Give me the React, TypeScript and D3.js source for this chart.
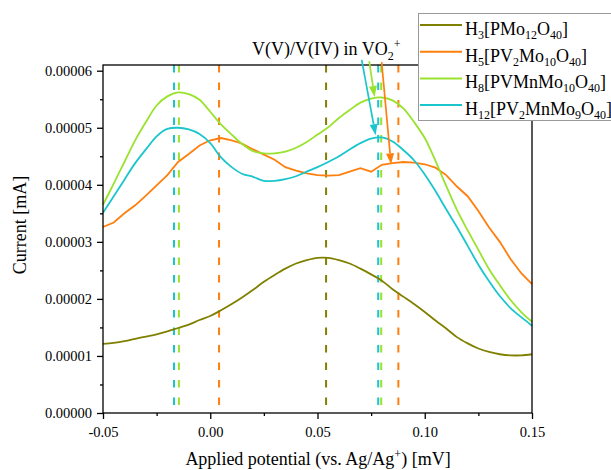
import React, { useEffect, useRef } from 'react';
import * as d3 from 'd3';

// potential axis samples [V]
const potential = [
  -0.05, -0.045, -0.04, -0.035, -0.03, -0.025, -0.02, -0.015, -0.01, -0.005,
  0.0, 0.005, 0.01, 0.015, 0.02, 0.025, 0.03, 0.035, 0.04, 0.045,
  0.05, 0.055, 0.06, 0.065, 0.07, 0.075, 0.08, 0.085, 0.09, 0.095,
  0.1, 0.105, 0.11, 0.115, 0.12, 0.125, 0.13, 0.135, 0.14, 0.145, 0.15,
];

// currents, in units of 1e-5 mA
const h3Current = [
  1.21, 1.23, 1.26, 1.3, 1.34, 1.38, 1.43, 1.49, 1.55, 1.63,
  1.7, 1.8, 1.91, 2.03, 2.16, 2.3, 2.42, 2.53, 2.62, 2.68,
  2.72, 2.72, 2.68, 2.62, 2.53, 2.43, 2.32, 2.17, 2.04, 1.91,
  1.77, 1.62, 1.48, 1.33, 1.22, 1.13, 1.07, 1.03, 1.01, 1.01, 1.03,
];
const h5Current = [
  3.26, 3.34, 3.5, 3.64, 3.81, 3.99, 4.17, 4.4, 4.54, 4.69,
  4.78, 4.82, 4.78, 4.72, 4.62, 4.53, 4.44, 4.31, 4.25, 4.2,
  4.17, 4.16, 4.17, 4.23, 4.29, 4.23, 4.35, 4.38, 4.4, 4.39,
  4.36, 4.3, 4.17, 3.97, 3.8, 3.54, 3.25, 3.0, 2.7, 2.45, 2.26,
];
const h8Current = [
  3.65, 4.02, 4.4, 4.78, 5.1, 5.39, 5.55, 5.62, 5.59, 5.49,
  5.28, 5.06, 4.88, 4.71, 4.59, 4.55, 4.55, 4.58, 4.65, 4.75,
  4.88, 5.01, 5.17, 5.31, 5.44, 5.51, 5.53, 5.48, 5.34, 5.1,
  4.82, 4.42, 3.98, 3.56, 3.2, 2.86, 2.52, 2.24, 1.98, 1.77, 1.6,
];
const h12Current = [
  3.51, 3.8, 4.09, 4.38, 4.62, 4.85, 4.98, 5.0, 4.97, 4.89,
  4.73, 4.48, 4.31, 4.19, 4.14, 4.07, 4.07, 4.1, 4.15, 4.23,
  4.31, 4.4, 4.5, 4.62, 4.73, 4.81, 4.83, 4.76, 4.61, 4.43,
  4.18, 3.89, 3.57, 3.26, 2.93, 2.6, 2.31, 2.05, 1.84, 1.68, 1.53,
];

// peak markers (dashed lines)
const peakPotentials = [-0.0169, -0.0146, 0.0041, 0.054, 0.0783, 0.0797, 0.0877];
const peakSeries = [3, 2, 1, 0, 3, 2, 1];

// annotation arrows: [x0, y0(1e-5), x1, y1(1e-5), series]
const arrowStart = [[0.0706, 6.19], [0.0741, 6.17], [0.0799, 6.15]];
const arrowEnd = [[0.0771, 4.87], [0.0766, 5.54], [0.0843, 4.36]];
const arrowSeries = [3, 2, 1];

const xTicks = [-0.05, 0.0, 0.05, 0.1, 0.15];
const yTicks = [0, 0.00001, 0.00002, 0.00003, 0.00004, 0.00005, 0.00006];

const colors = ['#808000', '#ff7f0e', '#99e22e', '#1ac6cc'];
const seriesData = [h3Current, h5Current, h8Current, h12Current];

// legend labels split into [text, isSubscript]
const legendLabels: [string, boolean][][] = [
  [['H', false], ['3', true], ['[PMo', false], ['12', true], ['O', false], ['40', true], [']', false]],
  [['H', false], ['5', true], ['[PV', false], ['2', true], ['Mo', false], ['10', true], ['O', false], ['40', true], [']', false]],
  [['H', false], ['8', true], ['[PVMnMo', false], ['10', true], ['O', false], ['40', true], [']', false]],
  [['H', false], ['12', true], ['[PV', false], ['2', true], ['MnMo', false], ['9', true], ['O', false], ['40', true], [']', false]],
];

const FONT = "'Liberation Serif', 'Times New Roman', serif";

export default function App() {
  const ref = useRef<SVGSVGElement>(null);

  useEffect(() => {
    const svg = d3.select(ref.current);
    svg.selectAll('*').remove();

    const left = 103, right = 532, top = 65, bottom = 413;

    const x = d3.scaleLinear().domain([-0.05, 0.15]).range([left, right]);
    const y = d3.scaleLinear().domain([0, 0.0000610]).range([bottom, top]);

    // dashed peak lines
    const g = svg.append('g');
    peakPotentials.forEach((p, i) => {
      g.append('line')
        .attr('x1', x(p)).attr('x2', x(p))
        .attr('y1', y(0.0000610)).attr('y2', y(0))
        .attr('stroke', colors[peakSeries[i]])
        .attr('stroke-width', 2)
        .attr('stroke-dasharray', '7.5,10');
    });

    // curves
    seriesData.forEach((s, i) => {
      const line = d3.line<number>()
        .x((_, j) => x(potential[j]))
        .y(d => y(d * 1e-5))
        .curve(i === 1 ? d3.curveLinear : d3.curveCatmullRom);
      g.append('path')
        .datum(s)
        .attr('d', line)
        .attr('fill', 'none')
        .attr('stroke', colors[i])
        .attr('stroke-width', 1.8);
    });

    // frame
    svg.append('rect')
      .attr('x', left).attr('y', top)
      .attr('width', right - left).attr('height', bottom - top)
      .attr('fill', 'none').attr('stroke', '#000').attr('stroke-width', 1.3);

    // axes
    const fmtX = (d: number) => d3.format('.2f')(d).replace('−', '-');
    const xAxis = svg.append('g')
      .attr('transform', `translate(0,${bottom})`)
      .call(d3.axisBottom(x).tickValues(xTicks).tickFormat(fmtX as any).tickSize(6).tickSizeOuter(0));
    const xMinor = svg.append('g')
      .attr('transform', `translate(0,${bottom})`)
      .call(d3.axisBottom(x).tickValues([-0.025, 0.025, 0.075, 0.125]).tickFormat(() => '').tickSize(3).tickSizeOuter(0));

    const yAxis = svg.append('g')
      .attr('transform', `translate(${left},0)`)
      .call(d3.axisLeft(y).tickValues(yTicks).tickFormat(d3.format('.5f') as any).tickSize(6).tickSizeOuter(0).tickPadding(5));
    const yMinor = svg.append('g')
      .attr('transform', `translate(${left},0)`)
      .call(d3.axisLeft(y).tickValues([0.000005, 0.000015, 0.000025, 0.000035, 0.000045, 0.000055]).tickFormat(() => '').tickSize(3).tickSizeOuter(0));

    [xAxis, xMinor, yAxis, yMinor].forEach(a => {
      a.select('.domain').remove();
      a.selectAll('line').attr('stroke', '#000').attr('stroke-width', 1.3);
      a.selectAll('text').attr('font-family', FONT).attr('font-size', 14.5).attr('fill', '#000');
    });
    xAxis.selectAll('text').attr('dy', '1.05em');

    // axis titles
    const xt = svg.append('text')
      .attr('x', 318).attr('y', 465)
      .attr('text-anchor', 'middle')
      .attr('font-family', FONT).attr('font-size', 18);
    xt.append('tspan').text('Applied potential (vs. Ag/Ag');
    xt.append('tspan').attr('font-size', 12).attr('dy', -7).text('+');
    xt.append('tspan').attr('dy', 7).text(') [mV]');

    svg.append('text')
      .attr('transform', 'translate(26,225) rotate(-90)')
      .attr('text-anchor', 'middle')
      .attr('font-family', FONT).attr('font-size', 18)
      .text('Current [mA]');

    // annotation text
    const an = svg.append('text')
      .attr('x', 252).attr('y', 55)
      .attr('font-family', FONT).attr('font-size', 18);
    an.append('tspan').text('V(V)/V(IV) in VO');
    an.append('tspan').attr('font-size', 12).attr('dy', 5).text('2');
    an.append('tspan').attr('font-size', 12).attr('dy', -12).text('+');

    // arrows
    arrowStart.forEach((st, i) => {
      const x0 = x(st[0]), y0 = y(st[1] * 1e-5);
      const x1 = x(arrowEnd[i][0]), y1 = y(arrowEnd[i][1] * 1e-5);
      const ang = Math.atan2(y1 - y0, x1 - x0);
      const len = 11, w = 4;
      const bx = x1 - len * Math.cos(ang), by = y1 - len * Math.sin(ang);
      const c = colors[arrowSeries[i]];
      svg.append('line')
        .attr('x1', x0).attr('y1', y0).attr('x2', bx).attr('y2', by)
        .attr('stroke', c).attr('stroke-width', 1.7);
      svg.append('path')
        .attr('d', `M${x1},${y1}L${bx - w * Math.sin(ang)},${by + w * Math.cos(ang)}L${bx + w * Math.sin(ang)},${by - w * Math.cos(ang)}Z`)
        .attr('fill', c);
    });

    // legend
    const lg = svg.append('g');
    lg.append('rect')
      .attr('x', 418.5).attr('y', 13.5).attr('width', 220).attr('height', 107)
      .attr('fill', '#fff').attr('stroke', '#999').attr('stroke-width', 1);
    legendLabels.forEach((parts, i) => {
      const base = 35 + i * 26.7;
      lg.append('line')
        .attr('x1', 420).attr('x2', 462)
        .attr('y1', base - 10).attr('y2', base - 10)
        .attr('stroke', colors[i]).attr('stroke-width', 2);
      const t = lg.append('text')
        .attr('x', 465).attr('y', base)
        .attr('font-family', FONT).attr('font-size', 18);
      let prevSub = false;
      parts.forEach(([s, sub]) => {
        const ts = t.append('tspan').text(s);
        if (sub) ts.attr('font-size', 12);
        if (sub !== prevSub) ts.attr('dy', sub ? 4 : -4);
        prevSub = sub;
      });
    });
  }, []);

  return (
    <svg
      ref={ref}
      width={611}
      height={470}
      style={{ position: 'absolute', left: 0, top: 0, background: '#fff' }}
    />
  );
}
